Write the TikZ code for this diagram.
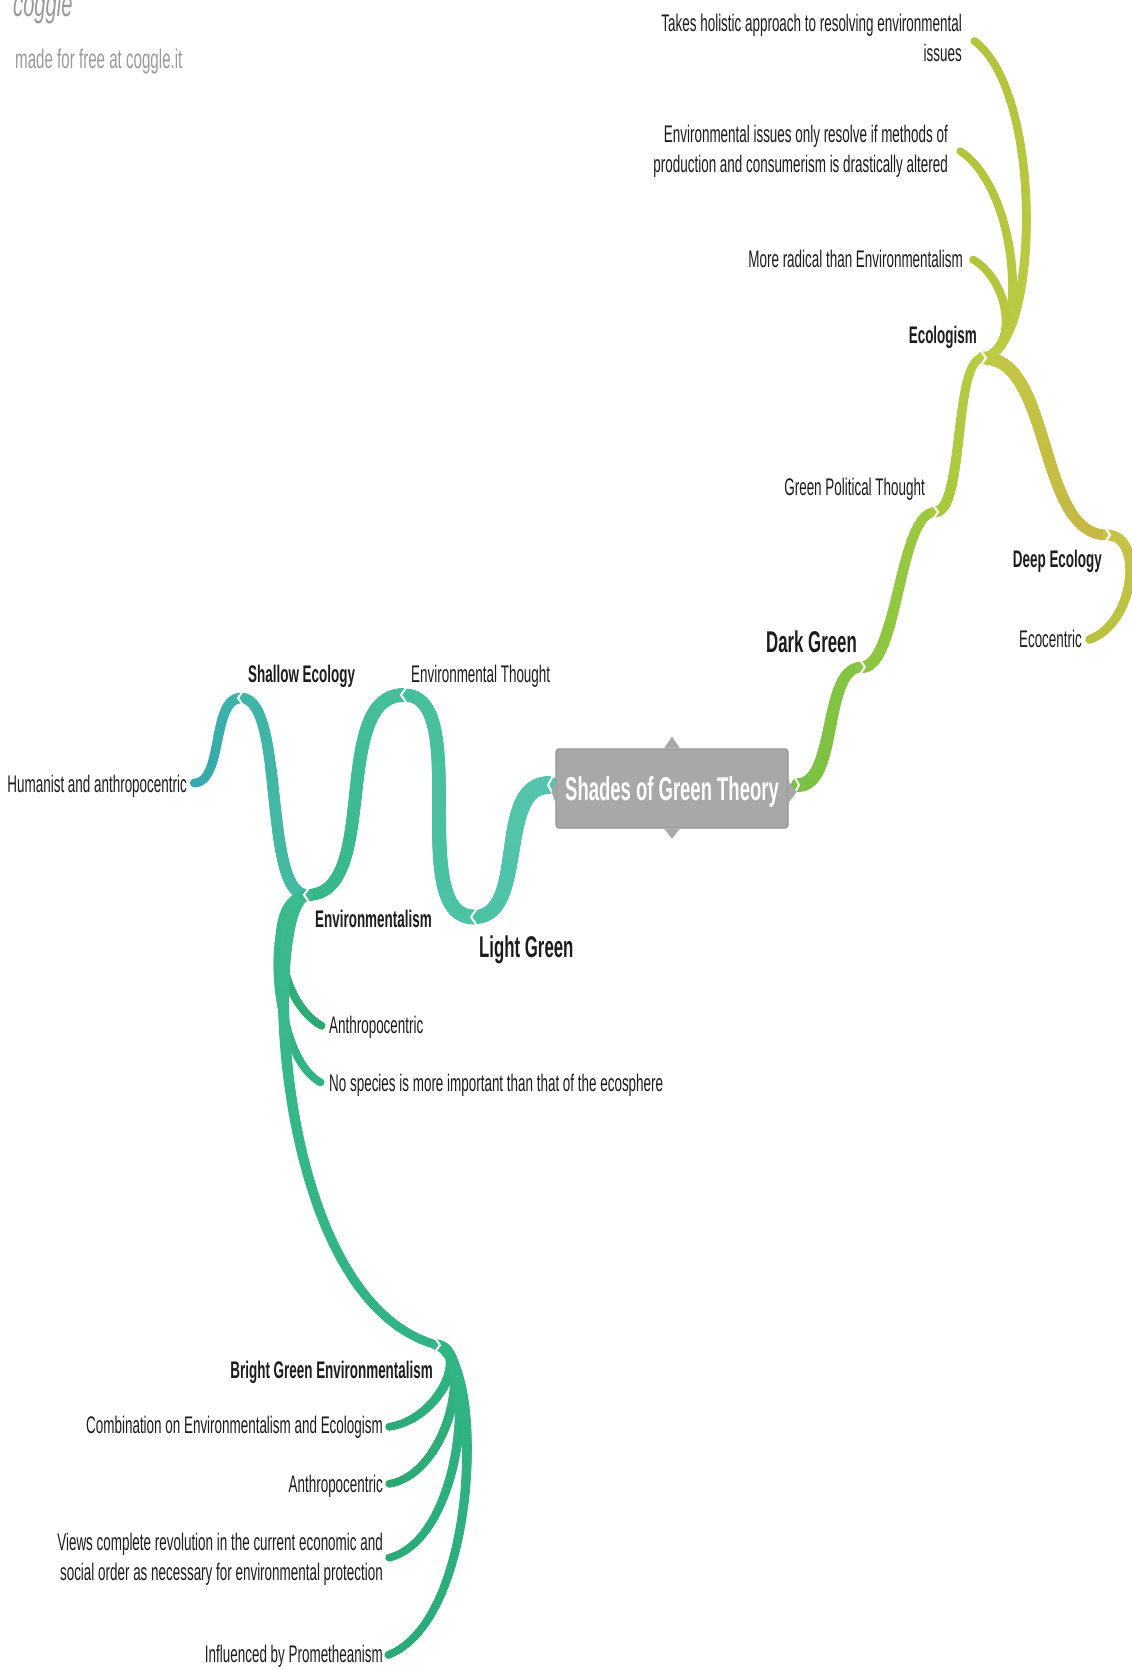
\documentclass[tikz,border=0pt]{standalone}
\usepackage{fontspec}
\setmainfont{Liberation Sans}[FakeStretch=0.56]
\usetikzlibrary{decorations.markings}
\pgfdeclarelayer{bg}
\pgfsetlayers{bg,main}
\definecolor{txt}{HTML}{1C1C1C}
\definecolor{logogray}{HTML}{9A9A9A}
\definecolor{boxfill}{HTML}{A8A8A8}
\definecolor{boxline}{HTML}{959595}
% left (teal) side
\definecolor{tA}{HTML}{55C5AD}
\definecolor{tB}{HTML}{4CC2A5}
\definecolor{tC}{HTML}{47BF9C}
\definecolor{tD}{HTML}{36B788}
\definecolor{tE}{HTML}{45BBA3}
\definecolor{tF}{HTML}{3FB4A8}
\definecolor{tG}{HTML}{35A9AD}
\definecolor{gA}{HTML}{3CBB8E}
\definecolor{gB}{HTML}{30B282}
\definecolor{gC}{HTML}{2BA872}
\definecolor{gD}{HTML}{33B686}
\definecolor{gE}{HTML}{2AAA79}
% right (green/yellow) side
\definecolor{rA}{HTML}{7AC143}
\definecolor{rB}{HTML}{85C443}
\definecolor{rC}{HTML}{8BC641}
\definecolor{rD}{HTML}{9BC83F}
\definecolor{rE}{HTML}{A6C93E}
\definecolor{rF}{HTML}{B6CB42}
\definecolor{rG}{HTML}{BCCD45}
\definecolor{rH}{HTML}{B2C33C}
\definecolor{rI}{HTML}{C2C846}
\definecolor{rJ}{HTML}{C6B743}
\definecolor{rK}{HTML}{C8C24A}
\definecolor{rL}{HTML}{B9C23E}
\tikzset{
  br/.style n args={4}{
    decoration={markings,
      mark=between positions 0 and 1 step 2pt with {%
        \pgfmathsetmacro\brpos{\pgfkeysvalueof{/pgf/decoration/mark info/distance from start}/\pgfdecoratedpathlength}%
        \pgfmathsetmacro\brr{(#3+(#4-#3)*\brpos)/2}%
        \pgfmathtruncatemacro\brp{100-100*\brpos}%
        \fill[#1!\brp!#2] (0,0) circle[radius=\brr pt];%
      }},
    decorate},
  lbl/.style={inner sep=0pt, text=txt, font=\fontsize{24}{30}\selectfont},
  lblb/.style={inner sep=0pt, text=txt, font=\fontsize{24}{30}\selectfont\bfseries},
  lblbig/.style={inner sep=0pt, text=txt, font=\fontsize{30}{36}\selectfont\bfseries},
  rootbox/.style={fill=boxfill, draw=boxline, line width=1.2pt, rounded corners=3pt,
    minimum width=232pt, minimum height=79pt, text height=24pt, text depth=0pt,
    text=white, font=\fontsize{33}{36}\selectfont\bfseries},
  gap/.style={draw=white, line width=2pt, line join=miter, line cap=butt},
}
\begin{document}
\begin{tikzpicture}[x=1pt,y=-1pt]
\useasboundingbox (0,0) rectangle (1132,1670);
\begin{pgfonlayer}{bg}
\fill[white] (0,0) rectangle (1132,1670);
\end{pgfonlayer}
\clip (0,0) rectangle (1132,1670);

% logo
\node[anchor=base west, inner sep=0pt, text=logogray, font=\fontsize{36}{36}\selectfont\itshape] (logo) at (13,17) {coggle};
\node[anchor=base west, inner sep=0pt, text=logogray, font=\fontsize{27}{30}\selectfont] (made) at (15,68) {made for free at coggle.it};

% joints and ends
\coordinate (boxL) at (549,785);
\coordinate (boxR) at (798,785);
\coordinate (jLG) at (474,917);
\coordinate (jET) at (404,695);
\coordinate (jEnv) at (307,895);
\coordinate (jSE) at (241,698);
\coordinate (eHum) at (194,783);
\coordinate (eAnA) at (322,1026);
\coordinate (eNoS) at (322,1083);
\coordinate (jBG) at (437,1345);
\coordinate (eComb) at (388,1427);
\coordinate (eAnB) at (388,1484);
\coordinate (eViews) at (388,1558);
\coordinate (eInfl) at (388,1655);
\coordinate (jDG) at (862,667);
\coordinate (jGPT) at (935,512);
\coordinate (jEco) at (983,358);
\coordinate (jDeep) at (1107,535);
\coordinate (eEcoc) at (1088,640);
\coordinate (eTakes) at (973,40);
\coordinate (eEnvIss) at (960,151);
\coordinate (eRad) at (972,259);

% central node
\node[rootbox] (root) at (672,788.5) {Shades of Green Theory};
\fill[boxfill] ([xshift=-8pt]root.north) -- ([yshift=12pt]root.north) -- ([xshift=8pt]root.north) -- cycle;
\fill[boxfill] ([xshift=-8pt]root.south) -- ([yshift=-10pt]root.south) -- ([xshift=8pt]root.south) -- cycle;
\fill[boxfill] ([yshift=8pt,xshift=0.6pt]root.west) -- ([xshift=-4pt,yshift=-3.5pt]root.west) -- ([yshift=-15pt,xshift=0.6pt]root.west) -- cycle;
\fill[boxfill] ([yshift=8pt,xshift=-0.6pt]root.east) -- ([xshift=8pt,yshift=-3.5pt]root.east) -- ([yshift=-15pt,xshift=-0.6pt]root.east) -- cycle;

% labels: right side
\node[lbl, anchor=base east, align=right] (takes) at (962,62) {Takes holistic approach to resolving environmental\\issues};
\node[lbl, anchor=base east, align=right] (enviss) at (948,172) {Environmental issues only resolve if methods of\\production and consumerism is drastically altered};
\node[lbl, anchor=base east] (rad) at (963,267) {More radical than Environmentalism};
\node[lblb, anchor=base east] (eco) at (977,343) {Ecologism};
\node[lbl, anchor=base east] (gpt) at (925,495) {Green Political Thought};
\node[lblbig, anchor=base east] (dg) at (857,652) {Dark Green};
\node[lblb, anchor=base east] (deep) at (1102,567) {Deep Ecology};
\node[lbl, anchor=base east] (ecoc) at (1082,647) {Ecocentric};

% labels: left side
\node[lbl, anchor=base west] (et) at (411,682) {Environmental Thought};
\node[lblb, anchor=base west] (se) at (248,682) {Shallow Ecology};
\node[lbl, anchor=base east] (hum) at (187,792) {Humanist and anthropocentric};
\node[lblb, anchor=base west] (env) at (315,927) {Environmentalism};
\node[lblbig, anchor=base west] (lg) at (479,957) {Light Green};
\node[lbl, anchor=base west] (anA) at (329,1033) {Anthropocentric};
\node[lbl, anchor=base west] (nos) at (329,1091) {No species is more important than that of the ecosphere};
\node[lblb, anchor=base east] (bg) at (433,1378) {Bright Green Environmentalism};
\node[lbl, anchor=base east] (comb) at (383,1433) {Combination on Environmentalism and Ecologism};
\node[lbl, anchor=base east] (anB) at (383,1492) {Anthropocentric};
\node[lbl, anchor=base east, align=right] (views) at (383,1580) {Views complete revolution in the current economic and\\social order as necessary for environmental protection};
\node[lbl, anchor=base east] (infl) at (383,1662) {Influenced by Prometheanism};

\begin{pgfonlayer}{bg}
% left side snake
\path[br={tA}{tB}{18}{14}] (boxL) .. controls +(-55,0) and +(55,0) .. (jLG);
\path[br={tB}{tC}{15}{13}] (jLG) .. controls +(-70,0) and +(70,0) .. (jET);
\path[br={tC}{tD}{14}{12}] (jET) .. controls +(-75,0) and +(75,0) .. (jEnv);
\path[br={tE}{tF}{12}{11}] (jEnv) .. controls +(-45,0) and +(45,0) .. (jSE);
\path[br={tF}{tG}{11}{9}] (jSE) .. controls +(-30,0) and +(30,0) .. (eHum);
% Environmentalism children
\path[br={gA}{gC}{11}{8}] (jEnv) .. controls (265,900) and (275,1000) .. (eAnA);
\path[br={gA}{gB}{11}{8}] (jEnv) .. controls (262,900) and (272,1060) .. (eNoS);
\path[br={gA}{gB}{12}{9}] (jEnv) .. controls (262,900) and (270,1300) .. (jBG);
% Bright Green children
\path[br={gD}{gE}{11}{8}] (jBG) .. controls (470,1350) and (440,1420) .. (eComb);
\path[br={gD}{gC}{11}{8}] (jBG) .. controls (475,1350) and (450,1475) .. (eAnB);
\path[br={gD}{gE}{11}{8}] (jBG) .. controls (478,1350) and (465,1540) .. (eViews);
\path[br={gD}{gE}{11}{8}] (jBG) .. controls (485,1360) and (480,1620) .. (eInfl);
% right side
\path[br={rA}{rB}{14}{11}] (boxR) .. controls +(40,0) and +(-40,0) .. (jDG);
\path[br={rC}{rD}{12}{10}] (jDG) .. controls +(36,0) and +(-36,0) .. (jGPT);
\path[br={rE}{rF}{11}{9}] (jGPT) .. controls +(30,0) and +(-30,0) .. (jEco);
\path[br={rI}{rJ}{13}{11}] (jEco) .. controls +(70,0) and +(-70,0) .. (jDeep);
\path[br={rK}{rL}{11}{9}] (jDeep) .. controls (1145,535) and (1135,625) .. (eEcoc);
\path[br={rG}{rH}{10}{8}] (jEco) .. controls (1040,350) and (1045,90) .. (eTakes);
\path[br={rG}{rH}{10}{8}] (jEco) .. controls (1030,350) and (1020,190) .. (eEnvIss);
\path[br={rG}{rH}{10}{8}] (jEco) .. controls (1020,350) and (1010,280) .. (eRad);
% joint gaps
\foreach \j in {jLG,jET,jEnv,jSE}{
  \draw[gap] ([shift={(4,-10)}]\j) -- ([shift={(-3,0)}]\j) -- ([shift={(4,10)}]\j);
}
\foreach \j in {jDG,jGPT,jEco,jDeep,jBG}{
  \draw[gap] ([shift={(-4,-10)}]\j) -- ([shift={(3,0)}]\j) -- ([shift={(-4,10)}]\j);
}
\draw[gap] ([shift={(5,-11)}]boxL) -- ([shift={(-1,0)}]boxL) -- ([shift={(5,11)}]boxL);
\draw[gap] ([shift={(-5,-11)}]boxR) -- ([shift={(1,0)}]boxR) -- ([shift={(-5,11)}]boxR);
\end{pgfonlayer}
\end{tikzpicture}
\end{document}
